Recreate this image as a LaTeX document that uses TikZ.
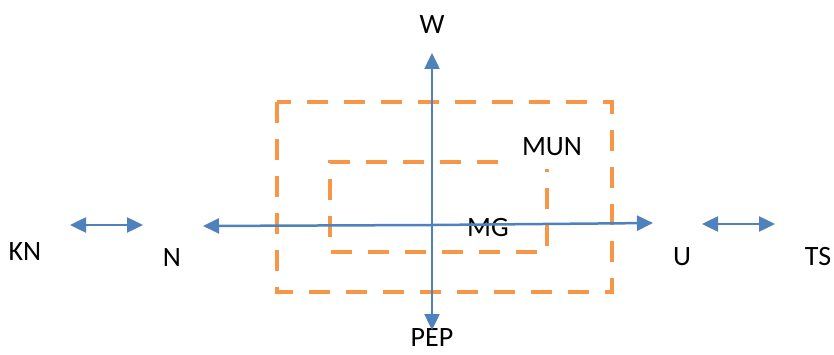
\documentclass[tikz,border=0pt]{standalone}
\usepackage{fontspec}
\setmainfont{Carlito}
\usetikzlibrary{arrows.meta}

\definecolor{axisblue}{RGB}{79,129,189}
\definecolor{zoneorange}{RGB}{247,150,70}

\tikzset{
  axis/.style={draw=axisblue, line width=2.5pt, -{Triangle[length=16pt,width=15pt]}},
  twoway/.style={draw=axisblue, line width=2.5pt, {Triangle[length=16pt,width=15pt]}-{Triangle[length=16pt,width=15pt]}},
  zone/.style={draw=zoneorange, line width=4.5pt, dash pattern=on 21pt off 16pt},
  lbl/.style={inner sep=0pt, font=\fontsize{28}{32}\selectfont},
}

\begin{document}
\begin{tikzpicture}[x=1pt, y=-1pt]
  \useasboundingbox (0,0) rectangle (834,355);

  % labels
  \node[lbl] (w)   at (432,25)  {W};
  \node[lbl] (pep) at (432,338) {PEP};
  \node[lbl] (n)   at (172,258) {N};
  \node[lbl] (u)   at (682,257) {U};
  \node[lbl] (kn)  at (25,252)  {KN};
  \node[lbl] (ts)  at (818,257) {TS};
  \node[lbl] (mun) at (552,147) {MUN};
  \node[lbl] (mg)  at (488,228) {MG};

  % zones
  \draw[zone] (277,102) rectangle (612,292);
  \draw[zone] (498,162) -- (330,162) -- (330,252) -- (547,252) -- (547,169);

  % axes
  \coordinate (c)   at (432,225);
  \coordinate (top) at (432,53);
  \coordinate (bot) at (432,330);
  \coordinate (lft) at (203,226);
  \coordinate (rgt) at (653,223);
  \draw[axis] (c) -- (top);
  \draw[axis] (c) -- (bot);
  \draw[axis] (c) -- (lft);
  \draw[axis] (c) -- (rgt);

  % side arrows
  \coordinate (kn1) at (70,225);
  \coordinate (kn2) at (143,225);
  \coordinate (ts1) at (702,224);
  \coordinate (ts2) at (775,224);
  \draw[twoway] (kn1) -- (kn2);
  \draw[twoway] (ts1) -- (ts2);
\end{tikzpicture}
\end{document}
